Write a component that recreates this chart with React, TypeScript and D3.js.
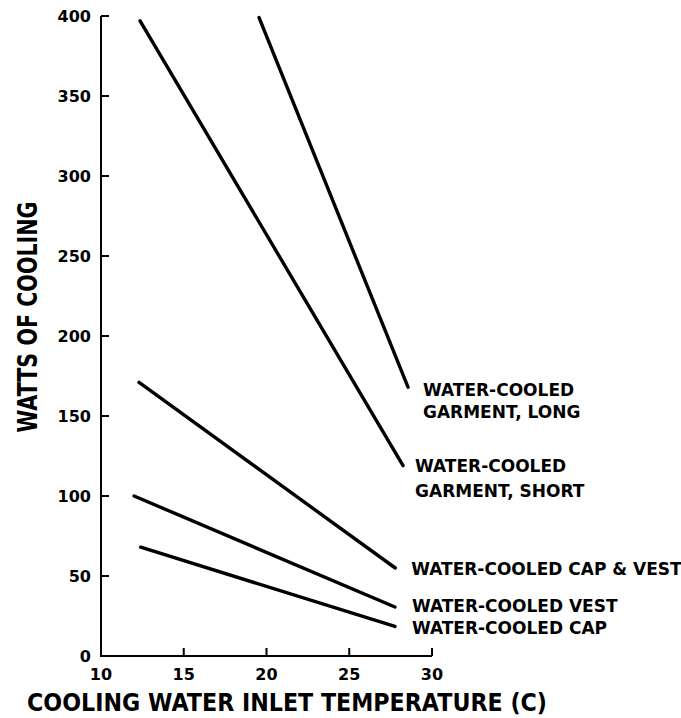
import React from "react";
import * as d3 from "d3";

const xTicks = [10, 15, 20, 25, 30];
const yTicks = [0, 50, 100, 150, 200, 250, 300, 350, 400];

const seriesNames = ["long", "short", "capVest", "vest", "cap"];
const seriesLabels: string[][] = [
  ["WATER-COOLED", "GARMENT, LONG"],
  ["WATER-COOLED", "GARMENT, SHORT"],
  ["WATER-COOLED CAP & VEST"],
  ["WATER-COOLED VEST"],
  ["WATER-COOLED CAP"],
];
const seriesTemps: number[][] = [
  [19.55, 28.55],
  [12.36, 28.25],
  [12.3, 27.78],
  [12.0, 27.76],
  [12.4, 27.76],
];
const seriesWatts: number[][] = [
  [399, 168],
  [397, 119],
  [171, 55],
  [100, 30.6],
  [68, 18.5],
];

const xTitle = "COOLING WATER INLET TEMPERATURE (C)";
const yTitle = "WATTS OF COOLING";

// layout for labels: offset from line end
const labelLayout = [
  { dx: 15, dy: 9, lh: 22 },
  { dx: 12, dy: 6, lh: 25 },
  { dx: 16, dy: 7, lh: 22 },
  { dx: 17, dy: 5, lh: 22 },
  { dx: 17, dy: 8, lh: 22 },
];

const FONT = "'DejaVu Sans', sans-serif";

export default function App() {
  const W = 681, H = 718;
  const x = d3.scaleLinear().domain([10, 30]).range([101, 432]);
  const y = d3.scaleLinear().domain([0, 400]).range([656, 16]);
  const line = d3
    .line<[number, number]>()
    .x((d) => x(d[0]))
    .y((d) => y(d[1]));

  return (
    <svg
      width={W}
      height={H}
      style={{ position: "absolute", left: 0, top: 0, background: "#fff" }}
      fontFamily={FONT}
    >
      <rect width={W} height={H} fill="#fff" />
      {/* axes */}
      <path
        d={`M${x(10)},${y(400)}H${x(10)}V${y(0)}H${x(30)}`}
        fill="none"
        stroke="#000"
        strokeWidth={2}
      />
      {yTicks.map((t) => (
        <g key={"yt" + t}>
          {t !== 0 && (
            <line x1={x(10)} x2={x(10) + 8} y1={y(t)} y2={y(t)} stroke="#000" strokeWidth={2} />
          )}
          <text
            x={91}
            y={y(t)}
            dy="0.36em"
            textAnchor="end"
            fontSize={16}
            fontWeight="bold"
          >
            {t}
          </text>
        </g>
      ))}
      {xTicks.map((t) => (
        <g key={"xt" + t}>
          {t !== 10 && (
            <line x1={x(t)} x2={x(t)} y1={y(0)} y2={y(0) - 8} stroke="#000" strokeWidth={2} />
          )}
          <text x={x(t)} y={680} textAnchor="middle" fontSize={16} fontWeight="bold">
            {t}
          </text>
        </g>
      ))}
      {/* titles */}
      <text
        x={287}
        y={711}
        textAnchor="middle"
        fontSize={24}
        fontWeight="bold"
        textLength={520}
        lengthAdjust="spacingAndGlyphs"
      >
        {xTitle}
      </text>
      <text
        transform={`translate(37,317) rotate(-90)`}
        textAnchor="middle"
        fontSize={27}
        fontWeight="bold"
        textLength={231}
        lengthAdjust="spacingAndGlyphs"
      >
        {yTitle}
      </text>
      {/* series */}
      {seriesNames.map((name, i) => {
        const pts: [number, number][] = seriesTemps[i].map((t, j) => [t, seriesWatts[i][j]]);
        const end = pts[pts.length - 1];
        const lx = x(end[0]) + labelLayout[i].dx;
        const ly = y(end[1]) + labelLayout[i].dy;
        return (
          <g key={name}>
            <path
              d={line(pts) || ""}
              fill="none"
              stroke="#000"
              strokeWidth={3.4}
              strokeLinecap="round"
            />
            {seriesLabels[i].map((s, k) => (
              <text
                key={k}
                x={lx}
                y={ly + k * labelLayout[i].lh}
                fontSize={17}
                fontWeight="bold"
              >
                {s}
              </text>
            ))}
          </g>
        );
      })}
    </svg>
  );
}
